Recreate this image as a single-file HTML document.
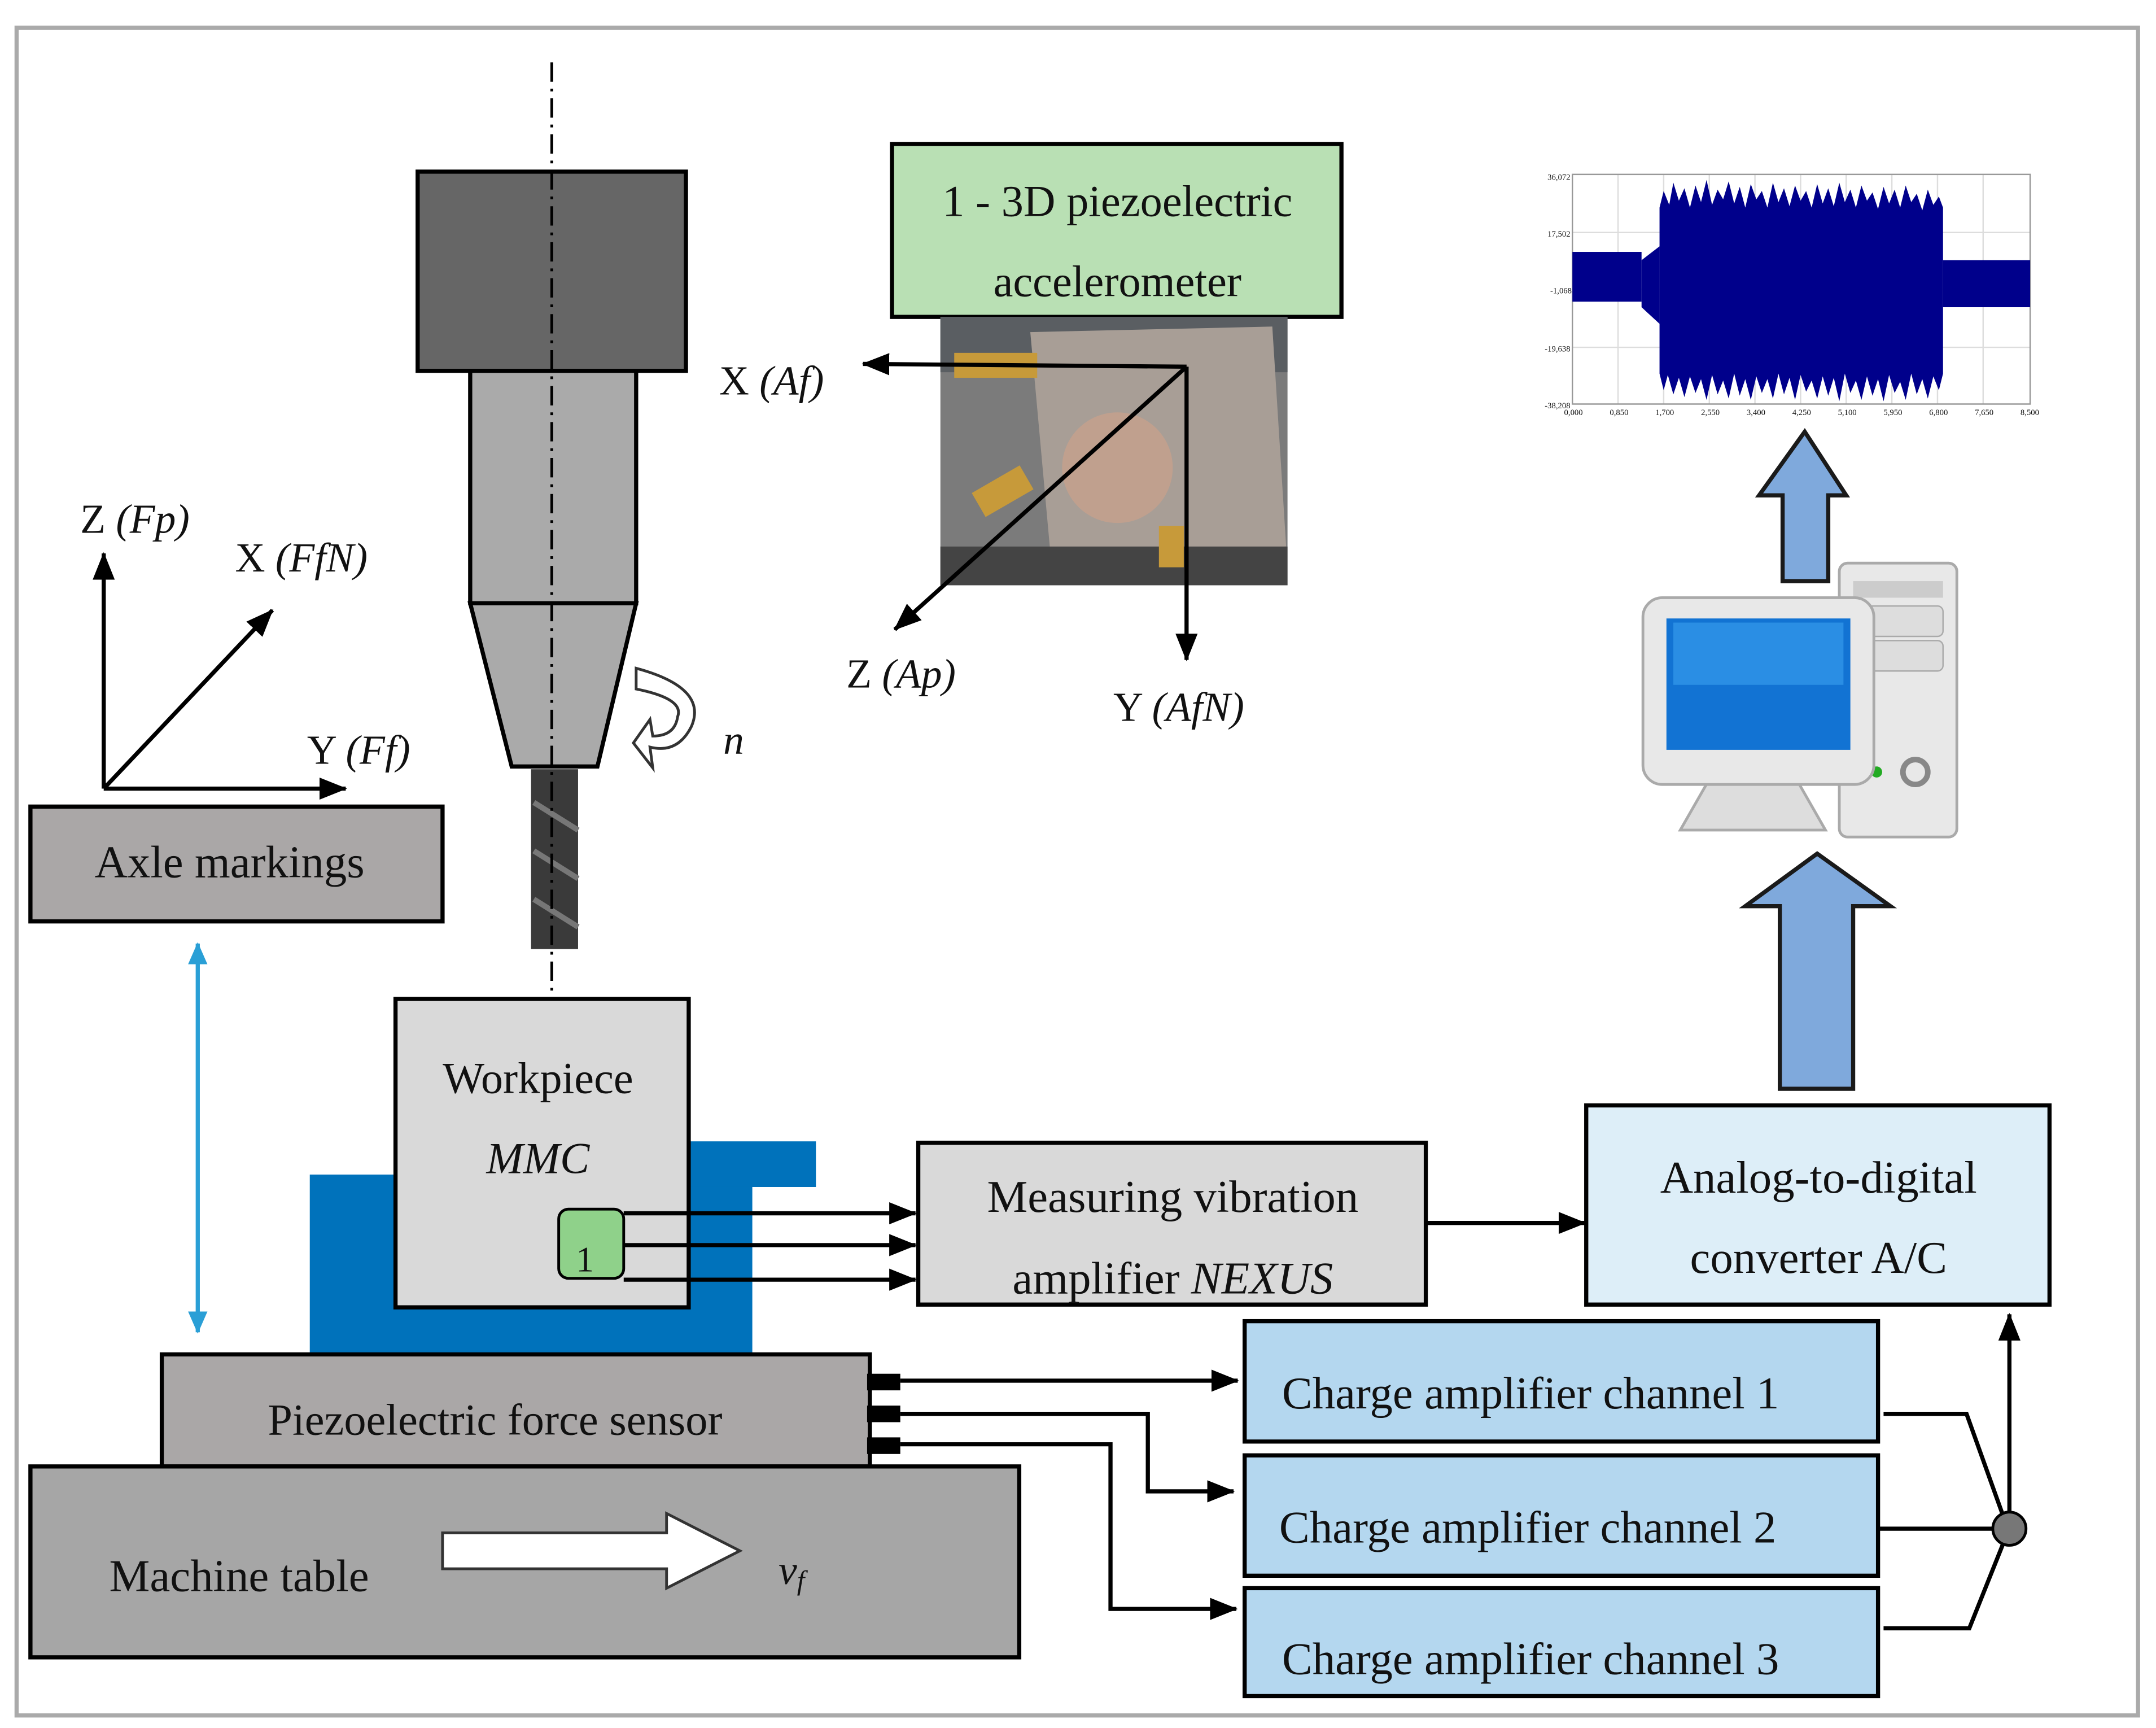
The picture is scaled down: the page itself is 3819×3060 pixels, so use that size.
<!DOCTYPE html>
<html><head><meta charset="utf-8"><style>
html,body{margin:0;padding:0;background:#fff}
svg{display:block}
text{font-family:"Liberation Serif",serif;fill:#111}
</style></head><body>
<svg width="3819" height="3060" viewBox="0 0 1559 1249" xmlns="http://www.w3.org/2000/svg">
<defs>
<marker id="ahL" markerWidth="20" markerHeight="16" refX="19" refY="8" orient="auto" markerUnits="userSpaceOnUse"><path d="M0,0 L20,8 L0,16 z" fill="#000"/></marker>
<marker id="bh" markerWidth="16" markerHeight="14" refX="15" refY="7" orient="auto-start-reverse" markerUnits="userSpaceOnUse"><path d="M0,0 L16,7 L0,14 z" fill="#2a9fd6"/></marker>
</defs>
<rect x="12" y="20" width="1534" height="1220" fill="#fff" stroke="#aaa" stroke-width="3"/>

<!-- spindle -->
<rect x="302" y="124" width="194" height="144" fill="#666" stroke="#000" stroke-width="3"/>
<rect x="340" y="268" width="120" height="168" fill="#aaa" stroke="#000" stroke-width="3"/>
<polygon points="340,436 460,436 432,554 370,554" fill="#aaa" stroke="#000" stroke-width="3"/>
<rect x="384" y="556" width="34" height="130" fill="#3a3a3a"/>
<path d="M386,580 L418,600 M386,615 L418,635 M386,650 L418,670" stroke="#777" stroke-width="4"/>
<line x1="399" y1="45" x2="399" y2="720" stroke="#000" stroke-width="2" stroke-dasharray="14,5,2,5"/>
<path d="M460,483 Q512,497 500,525 Q490,545 470,540 L472,555 L458,537 L470,520 L472,532 Q488,532 490,518 Q495,505 460,498 z" fill="#fff" stroke="#333" stroke-width="2"/>
<text x="523" y="545" font-size="30" font-style="italic">n</text>

<!-- accelerometer -->
<rect x="645" y="104" width="325" height="125" fill="#b9e0b4" stroke="#000" stroke-width="3"/>
<text x="808" y="156" font-size="32" text-anchor="middle">1 - 3D piezoelectric</text>
<text x="808" y="214" font-size="32" text-anchor="middle">accelerometer</text>
<rect x="680" y="229" width="251" height="194" fill="#7b7b7b"/>
<rect x="680" y="229" width="251" height="40" fill="#5a5e62"/>
<polygon points="745,240 920,236 930,395 760,405" fill="#a89e96"/>
<rect x="690" y="255" width="60" height="18" fill="#c79a3a"/>
<circle cx="808" cy="338" r="40" fill="#c0a08e"/>
<rect x="680" y="395" width="251" height="28" fill="#444"/>
<rect x="705" y="345" width="40" height="20" fill="#c79a3a" transform="rotate(-30 725 355)"/>
<rect x="838" y="380" width="18" height="30" fill="#c79a3a"/>
<line x1="858" y1="265" x2="624" y2="263" stroke="#000" stroke-width="3" marker-end="url(#ahL)"/>
<line x1="858" y1="265" x2="858" y2="477" stroke="#000" stroke-width="3" marker-end="url(#ahL)"/>
<line x1="858" y1="265" x2="647" y2="455" stroke="#000" stroke-width="3" marker-end="url(#ahL)"/>
<text x="520" y="285" font-size="30">X <tspan font-style="italic">(Af)</tspan></text>
<text x="612" y="497" font-size="30">Z <tspan font-style="italic">(Ap)</tspan></text>
<text x="805" y="521" font-size="30">Y <tspan font-style="italic">(AfN)</tspan></text>

<!-- left axes -->
<line x1="75" y1="570" x2="75" y2="400" stroke="#000" stroke-width="3" marker-end="url(#ahL)"/>
<line x1="75" y1="570" x2="197" y2="441" stroke="#000" stroke-width="3" marker-end="url(#ahL)"/>
<line x1="75" y1="570" x2="250" y2="570" stroke="#000" stroke-width="3" marker-end="url(#ahL)"/>
<text x="58" y="385" font-size="30">Z <tspan font-style="italic">(Fp)</tspan></text>
<text x="170" y="413" font-size="30">X <tspan font-style="italic">(FfN)</tspan></text>
<text x="222" y="552" font-size="30">Y <tspan font-style="italic">(Ff)</tspan></text>
<rect x="22" y="583" width="298" height="83" fill="#aaa7a7" stroke="#000" stroke-width="3"/>
<text x="166" y="634" font-size="33" text-anchor="middle">Axle markings</text>
<line x1="143" y1="682" x2="143" y2="963" stroke="#2a9fd6" stroke-width="3" marker-start="url(#bh)" marker-end="url(#bh)"/>

<!-- workpiece -->
<rect x="224" y="849" width="320" height="130" fill="#0072bb"/>
<rect x="498" y="825" width="92" height="33" fill="#0072bb"/>
<rect x="286" y="722" width="212" height="223" fill="#d9d9d9" stroke="#000" stroke-width="3"/>
<text x="389" y="790" font-size="32" text-anchor="middle">Workpiece</text>
<text x="389" y="848" font-size="32" text-anchor="middle" font-style="italic">MMC</text>
<line x1="451" y1="877" x2="662" y2="877" stroke="#000" stroke-width="3" marker-end="url(#ahL)"/>
<line x1="451" y1="900" x2="662" y2="900" stroke="#000" stroke-width="3" marker-end="url(#ahL)"/>
<line x1="451" y1="925" x2="662" y2="925" stroke="#000" stroke-width="3" marker-end="url(#ahL)"/>
<rect x="404" y="874" width="47" height="50" rx="7" fill="#8fd18a" stroke="#000" stroke-width="2"/>
<text x="423" y="919" font-size="26" text-anchor="middle">1</text>

<rect x="664" y="826" width="367" height="117" fill="#d9d9d9" stroke="#000" stroke-width="3"/>
<text x="848" y="876" font-size="33" text-anchor="middle">Measuring vibration</text>
<text x="848" y="935" font-size="33" text-anchor="middle">amplifier <tspan font-style="italic">NEXUS</tspan></text>
<line x1="1031" y1="884" x2="1146" y2="884" stroke="#000" stroke-width="3" marker-end="url(#ahL)"/>
<rect x="1147" y="799" width="335" height="144" fill="#ddeef8" stroke="#000" stroke-width="3"/>
<text x="1315" y="862" font-size="33" text-anchor="middle">Analog-to-digital</text>
<text x="1315" y="920" font-size="33" text-anchor="middle">converter A/C</text>

<polygon points="1287,787 1340,787 1340,655 1367,655 1314,617 1262,655 1287,655" fill="#7fa9dc" stroke="#1a1a1a" stroke-width="3"/>
<polygon points="1289,420 1322,420 1322,358 1335,358 1305,312 1272,358 1289,358" fill="#7fa9dc" stroke="#1a1a1a" stroke-width="3"/>

<!-- computer -->
<rect x="1330" y="407" width="85" height="198" rx="6" fill="#e8e8e8" stroke="#aaa" stroke-width="2"/>
<rect x="1340" y="420" width="65" height="12" fill="#ccc"/>
<rect x="1340" y="438" width="65" height="22" rx="4" fill="#ddd" stroke="#aaa"/>
<rect x="1340" y="463" width="65" height="22" rx="4" fill="#ddd" stroke="#aaa"/>
<circle cx="1385" cy="558" r="9" fill="none" stroke="#888" stroke-width="4"/>
<circle cx="1357" cy="558" r="4" fill="#2a2"/>
<path d="M1235,565 L1300,565 L1320,600 L1215,600 z" fill="#ddd" stroke="#aaa" stroke-width="2"/>
<rect x="1188" y="432" width="167" height="135" rx="14" fill="#e8e8e8" stroke="#aaa" stroke-width="2"/>
<rect x="1205" y="447" width="133" height="95" fill="#1273d3"/>
<rect x="1210" y="450" width="123" height="45" fill="#3ba0f0" opacity="0.6"/>

<!-- chart -->
<g stroke="#ddd" stroke-width="1">
<line x1="1170" y1="126" x2="1170" y2="292"/><line x1="1203" y1="126" x2="1203" y2="292"/><line x1="1236" y1="126" x2="1236" y2="292"/><line x1="1269" y1="126" x2="1269" y2="292"/><line x1="1302" y1="126" x2="1302" y2="292"/><line x1="1335" y1="126" x2="1335" y2="292"/><line x1="1368" y1="126" x2="1368" y2="292"/><line x1="1401" y1="126" x2="1401" y2="292"/><line x1="1434" y1="126" x2="1434" y2="292"/>
<line x1="1137" y1="168" x2="1468" y2="168"/><line x1="1137" y1="209" x2="1468" y2="209"/><line x1="1137" y1="251" x2="1468" y2="251"/>
</g>
<rect x="1137" y="126" width="331" height="166" fill="none" stroke="#999"/>
<rect x="1137" y="182" width="50" height="36" fill="#00008b"/>
<polygon points="1187,188 1200,178 1200,234 1187,222" fill="#00008b"/>
<path d="M1200,150 L1203,138 1207,148 1210,132 1214,145 1218,136 1222,150 1226,134 1230,146 1234,130 1238,148 1242,137 1246,144 1250,131 1254,147 1258,135 1262,150 1266,133 1270,144 1274,138 1278,150 1282,132 1286,146 1290,136 1294,149 1298,134 1302,145 1306,138 1310,150 1314,133 1318,147 1322,136 1326,149 1330,132 1334,146 1338,137 1342,150 1346,134 1350,145 1354,139 1358,151 1362,135 1366,147 1370,137 1374,150 1378,134 1382,146 1386,140 1390,152 1394,137 1398,148 1402,142 1405,150 L1405,270 1402,282 1398,272 1394,288 1390,274 1386,285 1382,270 1378,289 1374,276 1370,284 1366,271 1362,290 1358,274 1354,286 1350,272 1346,289 1342,275 1338,284 1334,270 1330,290 1326,273 1322,286 1318,272 1314,288 1310,275 1306,283 1302,271 1298,289 1294,273 1290,285 1286,270 1282,288 1278,274 1274,284 1270,272 1266,289 1262,274 1258,286 1254,270 1250,288 1246,275 1242,285 1238,271 1234,289 1230,274 1226,284 1222,272 1218,287 1214,273 1210,285 1206,271 1203,282 1200,270 Z" fill="#00008b"/>
<rect x="1405" y="188" width="63" height="34" fill="#00008b"/>
<g font-size="6" fill="#333">
<text x="1119" y="130">36,072</text><text x="1119" y="171">17,502</text><text x="1121" y="212">-1,068</text><text x="1117" y="254">-19,638</text><text x="1117" y="295">-38,208</text>
<text x="1131" y="300">0,000</text><text x="1164" y="300">0,850</text><text x="1197" y="300">1,700</text><text x="1230" y="300">2,550</text><text x="1263" y="300">3,400</text><text x="1296" y="300">4,250</text><text x="1329" y="300">5,100</text><text x="1362" y="300">5,950</text><text x="1395" y="300">6,800</text><text x="1428" y="300">7,650</text><text x="1461" y="300">8,500</text>
</g>

<!-- bottom -->
<rect x="117" y="979" width="512" height="81" fill="#aaa7a7" stroke="#000" stroke-width="3"/>
<text x="358" y="1037" font-size="32" text-anchor="middle">Piezoelectric force sensor</text>
<rect x="22" y="1060" width="715" height="138" fill="#a6a6a6" stroke="#000" stroke-width="3"/>
<text x="79" y="1150" font-size="33">Machine table</text>
<polygon points="320,1108 482,1108 482,1094 535,1121 482,1148 482,1134 320,1134" fill="#fff" stroke="#333" stroke-width="2"/>
<text x="563" y="1145" font-size="30" font-style="italic">v<tspan font-size="20" dy="4">f</tspan></text>

<rect x="627" y="993" width="24" height="12" fill="#000"/>
<rect x="627" y="1016" width="24" height="12" fill="#000"/>
<rect x="627" y="1039" width="24" height="12" fill="#000"/>
<line x1="651" y1="998" x2="895" y2="998" stroke="#000" stroke-width="3" marker-end="url(#ahL)"/>
<polyline points="651,1022 830,1022 830,1078 892,1078" fill="none" stroke="#000" stroke-width="3" marker-end="url(#ahL)"/>
<polyline points="651,1044 803,1044 803,1163 894,1163" fill="none" stroke="#000" stroke-width="3" marker-end="url(#ahL)"/>

<rect x="900" y="955" width="458" height="87" fill="#b4d7ef" stroke="#000" stroke-width="3"/>
<rect x="900" y="1052" width="458" height="87" fill="#b4d7ef" stroke="#000" stroke-width="3"/>
<rect x="900" y="1148" width="458" height="78" fill="#b4d7ef" stroke="#000" stroke-width="3"/>
<text x="927" y="1018" font-size="33">Charge amplifier channel 1</text>
<text x="925" y="1115" font-size="33">Charge amplifier channel 2</text>
<text x="927" y="1210" font-size="33">Charge amplifier channel 3</text>

<polyline points="1362,1022 1422,1022 1450,1100" fill="none" stroke="#000" stroke-width="3"/>
<line x1="1358" y1="1105" x2="1445" y2="1105" stroke="#000" stroke-width="3"/>
<polyline points="1362,1177 1424,1177 1450,1112" fill="none" stroke="#000" stroke-width="3"/>
<line x1="1453" y1="1095" x2="1453" y2="950" stroke="#000" stroke-width="3" marker-end="url(#ahL)"/>
<circle cx="1453" cy="1105" r="12" fill="#777" stroke="#000" stroke-width="2"/>
</svg>
</body></html>
